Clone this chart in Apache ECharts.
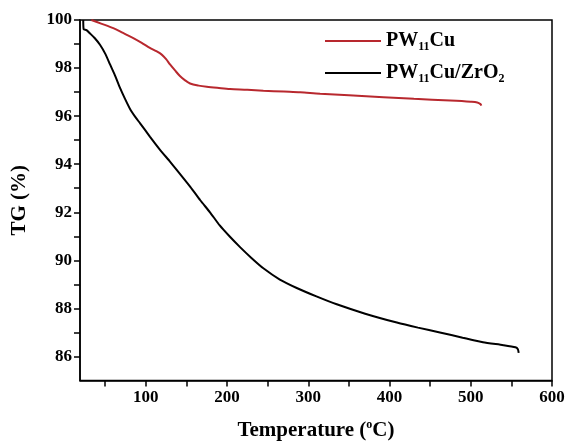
<!DOCTYPE html>
<html>
<head>
<meta charset="utf-8">
<script src="https://cdn.jsdelivr.net/npm/echarts@6/dist/echarts.min.js"></script>
<style>
html,body{margin:0;padding:0;background:#fff;}
#chart{width:569px;height:446px;}
</style>
</head>
<body>
<div id="chart"></div>
<script>
var seriesNames = ['PW11Cu', 'PW11Cu/ZrO2'];
var legendLabels = ['PW{sub|11}Cu', 'PW{sub|11}Cu/ZrO{sub|2}'];
var xTickLabels = [100, 200, 300, 400, 500, 600];
var xTicks = [50, 100, 150, 200, 250, 300, 350, 400, 450, 500, 550, 600];
var yTickLabels = [86, 88, 90, 92, 94, 96, 98, 100];
var yTicks = [86, 87, 88, 89, 90, 91, 92, 93, 94, 95, 96, 97, 98, 99, 100];

var pw11cu = [
  [33,100],[45,99.85],[60,99.66],[72,99.46],[84.6,99.25],[95,99.05],[105,98.84],[113,98.7],
  [119.6,98.56],[125,98.37],[129.8,98.15],[136,97.9],[142,97.67],[148,97.5],[154.5,97.36],
  [165,97.27],[175,97.22],[190,97.17],[203.7,97.13],[225,97.1],[244.7,97.06],[270,97.02],
  [290,96.99],[314.6,96.93],[350,96.87],[392.5,96.79],[430,96.72],[474.7,96.65],[500,96.6],
  [508,96.57],[512,96.5],[513,96.44]
];
var pw11cuZrO2 = [
  [23,100],[23.5,99.62],[27,99.58],[31,99.45],[37,99.25],[43.6,98.97],[50,98.6],[56,98.15],
  [62,97.7],[68,97.2],[74,96.75],[80.6,96.3],[87,95.97],[93,95.7],[105,95.15],[117.5,94.6],
  [130,94.1],[142,93.6],[155,93.05],[167,92.5],[179,92.0],[191,91.45],[203,91.0],[216,90.55],
  [230,90.1],[244.7,89.67],[265,89.2],[285.8,88.85],[310,88.5],[335,88.17],[370,87.78],
  [409,87.41],[435,87.2],[462,87.0],[490,86.78],[515,86.59],[540,86.47],[555,86.38],
  [558,86.3],[559,86.15]
];

var FONT = '"Liberation Serif", "Times New Roman", serif';
var chart = echarts.init(document.getElementById('chart'), null, {renderer: 'canvas'});
chart.setOption({
  animation: false,
  backgroundColor: '#fff',
  grid: {left: 80, right: 17, top: 20, bottom: 61, show: true, borderColor: '#000', borderWidth: 1.5, backgroundColor: 'transparent'},
  legend: {
    orient: 'vertical',
    left: 320, top: 24,
    icon: 'rect',
    itemWidth: 56, itemHeight: 2, itemGap: 8,
    data: seriesNames,
    formatter: function (name) { return legendLabels[seriesNames.indexOf(name)]; },
    textStyle: {
      fontFamily: FONT, fontWeight: 'bold', fontSize: 20, color: '#000', lineHeight: 24,
      rich: {
        sub: {fontFamily: FONT, fontWeight: 'bold', fontSize: 12, color: '#000', lineHeight: 24, verticalAlign: 'bottom', padding: [10, 0, 0, 0]}
      }
    }
  },
  xAxis: {
    type: 'value', min: 19, max: 600,
    name: 'Temperature ({sup|o}C)', nameLocation: 'middle', nameGap: 38,
    nameTextStyle: {fontFamily: FONT, fontWeight: 'bold', fontSize: 21, color: '#000',
      rich: {sup: {fontFamily: FONT, fontWeight: 'bold', fontSize: 12, color: '#000', padding: [0, 0, 12, 0]}}},
    axisLine: {show: true, lineStyle: {color: '#000', width: 1.5}},
    axisTick: {show: true, inside: false, length: 6, customValues: xTicks, lineStyle: {color: '#000', width: 1.5}},
    axisLabel: {customValues: xTickLabels, fontFamily: FONT, fontWeight: 'bold', fontSize: 17, color: '#000', margin: 9},
    splitLine: {show: false}
  },
  yAxis: {
    type: 'value', min: 85, max: 100,
    name: 'TG (%)', nameLocation: 'middle', nameGap: 50,
    nameTextStyle: {fontFamily: FONT, fontWeight: 'bold', fontSize: 21, color: '#000'},
    axisLine: {show: true, lineStyle: {color: '#000', width: 1.5}},
    axisTick: {show: true, inside: false, length: 6, customValues: yTicks, lineStyle: {color: '#000', width: 1.5}},
    axisLabel: {customValues: yTickLabels, fontFamily: FONT, fontWeight: 'bold', fontSize: 17, color: '#000', margin: 8},
    splitLine: {show: false}
  },
  series: [
    {name: seriesNames[0], type: 'line', data: pw11cu, showSymbol: false, symbol: 'none', smooth: 0.3,
     lineStyle: {color: '#b8282e', width: 2}, itemStyle: {color: '#b8282e'}},
    {name: seriesNames[1], type: 'line', data: pw11cuZrO2, showSymbol: false, symbol: 'none', smooth: 0.2,
     lineStyle: {color: '#000', width: 2}, itemStyle: {color: '#000'}}
  ]
});
</script>
</body>
</html>
